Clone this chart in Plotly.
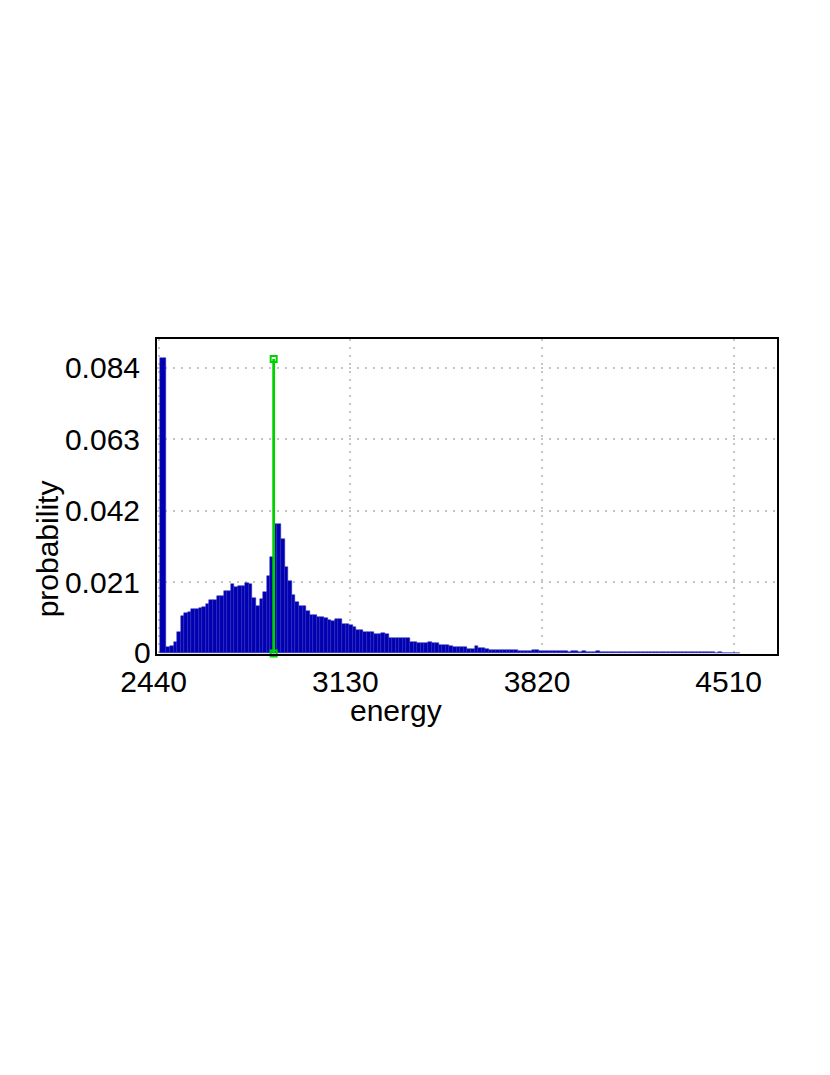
import plotly.graph_objects as go

# ---- data ----
bin_start = 2467.7      # left edge of first regular bin (energy)
bin_width = 12.9        # energy per bin
probability = [
    0.0018, 0.0022, 0.0035, 0.0063, 0.0110, 0.0119, 0.0121, 0.0132, 0.0130, 0.0134,
    0.0137, 0.0146, 0.0157, 0.0158, 0.0170, 0.0170, 0.0185, 0.0185, 0.0204, 0.0197,
    0.0198, 0.0199, 0.0207, 0.0205, 0.0164, 0.0141, 0.0159, 0.0181, 0.0228, 0.0284,
    0.0380, 0.0380, 0.0338, 0.0254, 0.0213, 0.0173, 0.0151, 0.0140, 0.0139, 0.0125,
    0.0114, 0.0114, 0.0107, 0.0107, 0.0105, 0.0098, 0.0097, 0.0102, 0.0101, 0.0088,
    0.0087, 0.0085, 0.0079, 0.0070, 0.0068, 0.0063, 0.0063, 0.0062, 0.0056, 0.0058,
    0.0060, 0.0058, 0.0045, 0.0046, 0.0046, 0.0046, 0.0045, 0.0046, 0.0034, 0.0033,
    0.0032, 0.0030, 0.0030, 0.0033, 0.0032, 0.0030, 0.0026, 0.0026, 0.0024, 0.0023,
    0.0019, 0.0019, 0.0018, 0.0018, 0.0014, 0.0014, 0.0021, 0.0016, 0.0015, 0.0012,
    0.0011, 0.0011, 0.0011, 0.0011, 0.0010, 0.0009, 0.0009, 0.0009, 0.0008, 0.0008,
    0.0008, 0.0008, 0.0010, 0.0009, 0.0006, 0.0006, 0.0007, 0.0006, 0.0006, 0.0006,
    0.0006, 0.0006, 0.0005, 0.0006, 0.0006, 0.0005, 0.0006, 0.0005, 0.0005, 0.0005,
    0.0006, 0.0005, 0.0005, 0.0005, 0.0005, 0.0004, 0.0005, 0.0005, 0.0005, 0.0004,
    0.0005, 0.0004, 0.0004, 0.0005, 0.0004, 0.0004, 0.0004, 0.0004, 0.0005, 0.0004,
    0.0004, 0.0004, 0.0004, 0.0004, 0.0004, 0.0004, 0.0004, 0.0003, 0.0004, 0.0003,
    0.0003, 0.0003, 0.0003, 0.0002, 0.0003, 0.0002, 0.0002, 0.0002, 0.0002, 0.0002,
]
spike_left = 2445.0
spike_right = 2467.7
spike_value = 0.0870

marker_energy = 2854.0
marker_top = 0.0866

x_ticks = [2440, 3130, 3820, 4510]
y_ticks = [0.021, 0.042, 0.063, 0.084]
y_tick_text = ["0.021", "0.042", "0.063", "0.084"]

# ---- figure ----
FONT = "Liberation Sans, Arial, sans-serif"
BAR_COLOR = "#0000b0"
EDGE_COLOR = "#2828bc"
GREEN = "#00d000"

centers = [bin_start + (i + 0.5) * bin_width for i in range(len(probability))]

fig = go.Figure()
fig.add_trace(go.Bar(
    x=centers, y=probability, width=bin_width,
    marker=dict(color=BAR_COLOR, line=dict(color=EDGE_COLOR, width=0.5)),
    showlegend=False, hoverinfo="skip",
))
fig.add_trace(go.Bar(
    x=[(spike_left + spike_right) / 2], y=[spike_value], width=spike_right - spike_left,
    marker=dict(color=BAR_COLOR, line=dict(color=EDGE_COLOR, width=0.5)),
    showlegend=False, hoverinfo="skip",
))
fig.add_trace(go.Scatter(
    x=[marker_energy, marker_energy], y=[0, marker_top],
    mode="lines+markers",
    line=dict(color=GREEN, width=2.8),
    marker=dict(symbol="square-open", size=6, color=GREEN, line=dict(color=GREEN, width=2)),
    showlegend=False, hoverinfo="skip", cliponaxis=False,
))

# the page body adds an 8px offset, so the figure is 8px smaller on each axis
fig.update_layout(
    width=822, height=1067,
    margin=dict(l=149, r=53, t=331, b=421),
    paper_bgcolor="white", plot_bgcolor="white",
    bargap=0, barmode="overlay",
    font=dict(family=FONT, size=30, color="black"),
    showlegend=False,
)
fig.update_xaxes(
    range=[2434, 4666],
    tickvals=x_ticks, ticktext=[str(v) for v in x_ticks],
    ticks="", showline=True, mirror=True, linecolor="black", linewidth=2,
    showgrid=True, gridcolor="#c4c4c4", gridwidth=2, griddash="2px,6px",
    zeroline=False, tickfont=dict(size=30), ticklabelshift=-5, ticklabelstandoff=0,
)
fig.update_yaxes(
    range=[-0.00015, 0.0925],
    tickvals=y_ticks, ticktext=y_tick_text,
    ticks="", showline=True, mirror=True, linecolor="black", linewidth=2,
    showgrid=True, gridcolor="#c4c4c4", gridwidth=2, griddash="2px,6px",
    zeroline=False, tickfont=dict(size=30), ticklabelstandoff=9,
)
fig.add_annotation(text="0", x=0, y=0, xref="x domain", yref="y", xanchor="right",
                   yanchor="middle", xshift=-4, yshift=1, showarrow=False, font=dict(size=30))
fig.add_annotation(text="energy", x=(396 - 157) / 620, y=-0.18, xref="paper", yref="paper",
                   xanchor="center", yanchor="middle", showarrow=False, font=dict(size=30))
fig.add_annotation(text="probability", x=-0.177, y=0.333, xref="paper", yref="paper",
                   xanchor="center", yanchor="middle", textangle=-90, showarrow=False,
                   font=dict(size=30))

fig.write_html("out.html")
